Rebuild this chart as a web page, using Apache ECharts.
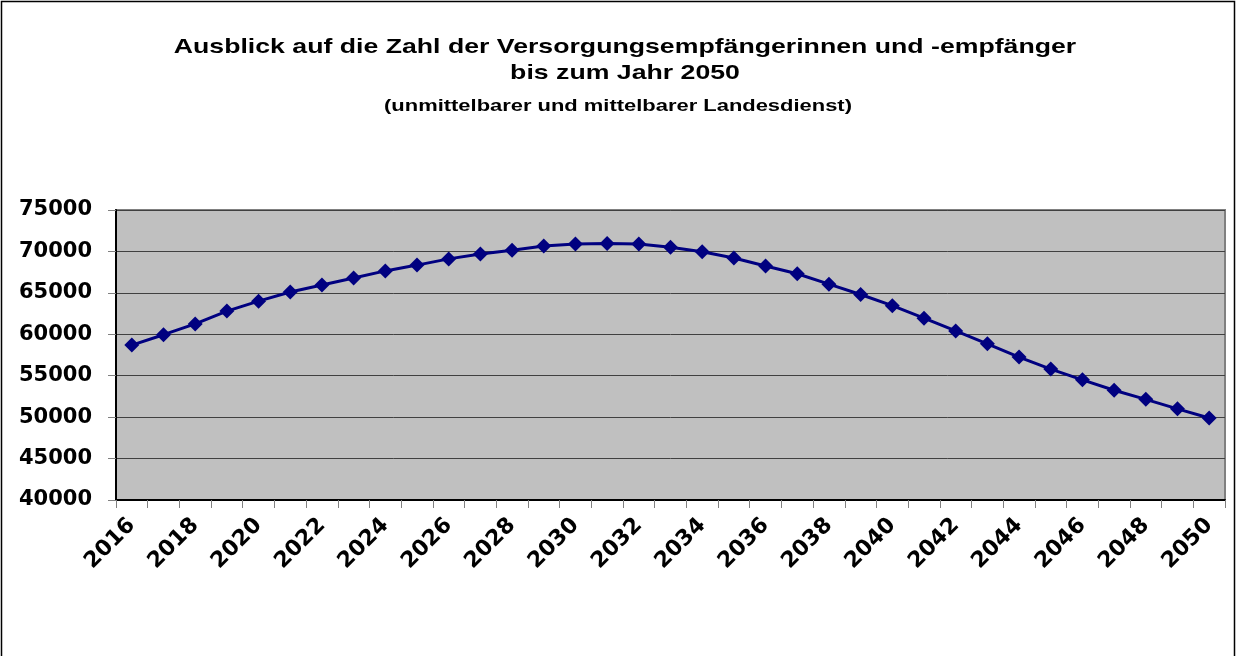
<!DOCTYPE html>
<html>
<head>
<meta charset="utf-8">
<script src="https://cdn.jsdelivr.net/npm/echarts@6/dist/echarts.min.js"></script>
<style>
  html, body { margin: 0; padding: 0; background: #fff; }
  #main { width: 1237px; height: 656px; }
</style>
</head>
<body>
<div id="main"></div>
<script>
// Jahre 2016 bis 2050
var years = ['2016','2017','2018','2019','2020','2021','2022','2023','2024','2025',
	'2026','2027','2028','2029','2030','2031','2032','2033','2034','2035',
	'2036','2037','2038','2039','2040','2041','2042','2043','2044','2045',
	'2046','2047','2048','2049','2050'];
// Versorgungsempfaengerinnen und -empfaenger
var recipients = [58700, 59950, 61250, 62800, 64000, 65100, 65950, 66800, 67650, 68350,
	69100, 69700, 70150, 70650, 70900, 70950, 70900, 70500, 69950, 69200,
	68250, 67300, 66050, 64800, 63450, 61950, 60400, 58850, 57250, 55800,
	54500, 53250, 52150, 51000, 49900];
var yTicks = [40000, 45000, 50000, 55000, 60000, 65000, 70000, 75000];

var titleFont = '"Liberation Sans", Arial, sans-serif';
var axisFont = '"DejaVu Sans", sans-serif';
var myChart = echarts.init(document.getElementById('main'));
var option = {
	animation: false,
	backgroundColor: '#fff',
	graphic: [{
		type: 'rect',
		shape: { x: 1.5, y: 1.5, width: 1233, height: 680 },
		style: { fill: 'none', stroke: '#000', lineWidth: 1.5 },
		silent: true
	}, {
		// Titel etwas breit gezogen wie im Original
		type: 'text', x: 625, y: 58, scaleX: 1.27,
		style: {
			text: 'Ausblick auf die Zahl der Versorgungsempfängerinnen und -empfänger',
			font: 'bold 21px ' + titleFont, fill: '#000',
			align: 'center', verticalAlign: 'bottom'
		}
	}, {
		type: 'text', x: 625, y: 84, scaleX: 1.27,
		style: {
			text: 'bis zum Jahr 2050',
			font: 'bold 21px ' + titleFont, fill: '#000',
			align: 'center', verticalAlign: 'bottom'
		}
	}, {
		type: 'text', x: 618, y: 115, scaleX: 1.29,
		style: {
			text: '(unmittelbarer und mittelbarer Landesdienst)',
			font: 'bold 17px ' + titleFont, fill: '#000',
			align: 'center', verticalAlign: 'bottom'
		}
	}],
	grid: {
		left: 116, right: 12, top: 210, bottom: 156,
		show: true,
		backgroundColor: '#c0c0c0',
		borderColor: '#808080',
		borderWidth: 2
	},
	xAxis: {
		type: 'category',
		data: years,
		boundaryGap: true,
		axisLine: { lineStyle: { color: '#000', width: 2 } },
		axisTick: { show: true, length: 8, interval: 0, lineStyle: { color: '#808080' } },
		axisLabel: {
			interval: 1, rotate: 45, margin: 22,
			fontFamily: axisFont, fontWeight: 'bold', fontSize: 22, color: '#000'
		},
		splitLine: { show: false }
	},
	yAxis: {
		type: 'value',
		min: yTicks[0],
		max: yTicks[yTicks.length - 1],
		interval: 5000,
		axisLine: { show: true, lineStyle: { color: '#000', width: 2 } },
		axisTick: { show: true, length: 8, lineStyle: { color: '#808080' } },
		axisLabel: {
			margin: 24,
			formatter: function(v) { return String(v); },
			fontFamily: axisFont, fontWeight: 'bold', fontSize: 21, color: '#000'
		},
		splitLine: { lineStyle: { color: '#404040', width: 1 } }
	},
	series: [{
		type: 'line',
		data: recipients,
		symbol: 'diamond',
		symbolSize: 15,
		lineStyle: { color: '#000080', width: 3 },
		itemStyle: { color: '#000080' }
	}]
};
myChart.setOption(option);
</script>
</body>
</html>
